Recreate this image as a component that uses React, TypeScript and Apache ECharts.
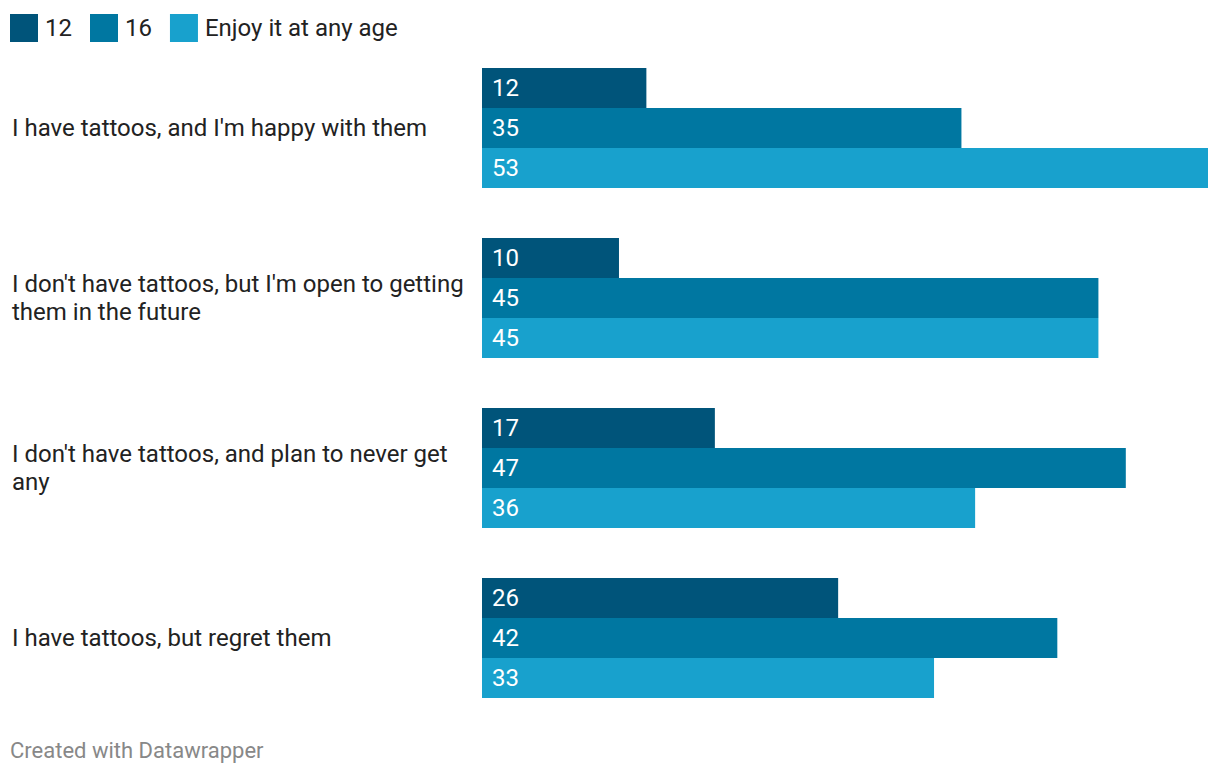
import React, { useEffect, useRef } from "react";
import * as echarts from "echarts";

const categories = [
  "I have tattoos, and I'm happy with them",
  "I don't have tattoos, but I'm open to getting them in the future",
  "I don't have tattoos, and plan to never get any",
  "I have tattoos, but regret them",
];
const seriesNames = ["12", "16", "Enjoy it at any age"];
const values12 = [12, 10, 17, 26];
const values16 = [35, 45, 47, 42];
const valuesAny = [53, 45, 36, 33];
const colors = ["#00547a", "#0077a1", "#18a1cd"];

export default function App() {
  const ref = useRef<HTMLDivElement>(null);
  useEffect(() => {
    if (!ref.current) return;
    const chart = echarts.init(ref.current, null, { renderer: "svg" });
    const allValues = [values12, values16, valuesAny];
    chart.setOption({
      animation: false,
      textStyle: { fontFamily: "Roboto" },
      legend: {
        left: 10,
        top: 14,
        padding: 0,
        itemWidth: 28,
        itemHeight: 28,
        itemGap: 18,
        icon: "rect",
        textStyle: { fontSize: 24, color: "#222", padding: [0, 0, 0, 2], fontFamily: "Roboto" },
        data: seriesNames,
      },
      grid: { left: 482, right: 12, top: 43, bottom: 53, containLabel: false },
      xAxis: {
        type: "value",
        min: 0,
        max: 53,
        show: false,
      },
      yAxis: {
        type: "category",
        inverse: true,
        data: categories,
        axisLine: { show: false },
        axisTick: { show: false },
        axisLabel: {
          align: "left",
          margin: 470,
          fontSize: 24,
          color: "#222",
          lineHeight: 28,
          width: 460,
          overflow: "break",
          fontFamily: "Roboto",
        },
      },
      series: seriesNames.map((name, i) => ({
        name,
        type: "bar",
        data: allValues[i],
        barWidth: 40,
        barGap: "0%",
        barCategoryGap: "29.4%",
        itemStyle: { color: colors[i] },
        label: {
          show: true,
          position: "insideLeft",
          distance: 10,
          color: "#fff",
          fontSize: 24,
          fontFamily: "Roboto",
        },
      })),
      graphic: [
        {
          type: "text",
          left: 10,
          top: 739,
          style: { text: "Created with Datawrapper", fill: "#888", fontSize: 22, fontFamily: "Roboto" },
        },
      ],
    });
    return () => chart.dispose();
  }, []);
  return <div ref={ref} style={{ position: "absolute", left: 0, top: 0, width: 1220, height: 776 }} />;
}
